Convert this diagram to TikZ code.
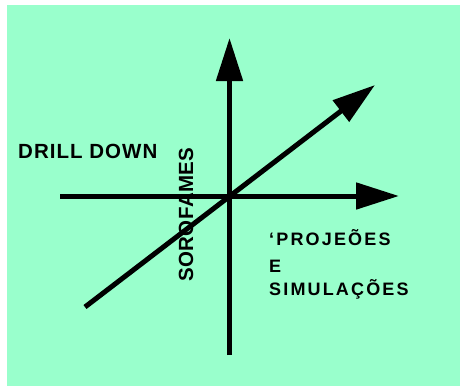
\documentclass[tikz,border=0pt]{standalone}
\usepackage{fontspec}
\setmainfont{Liberation Sans}
\newfontfamily\lblfont[LetterSpace=12]{Liberation Sans}
\newfontfamily\bigfont[LetterSpace=5]{Liberation Sans}
\newfontfamily\rotfont[LetterSpace=2]{Liberation Sans}
\usetikzlibrary{arrows.meta}
\definecolor{bggreen}{RGB}{153,255,204}
\tikzset{
  axis/.style={line width=5pt, -{Triangle[length=43pt,width=26pt]}},
  lbl/.style={inner sep=0pt, anchor=base west, font=\lblfont\bfseries\fontsize{18}{20}\selectfont},
  biglbl/.style={inner sep=0pt, anchor=base west, font=\bigfont\bfseries\fontsize{20.5}{22}\selectfont},
  rotlbl/.style={inner sep=0pt, anchor=base west, rotate=90, font=\rotfont\bfseries\fontsize{20.5}{22}\selectfont}
}
\begin{document}
\begin{tikzpicture}[x=1pt,y=-1pt]
\useasboundingbox (0,0) rectangle (460,386);
\fill[bggreen] (7,5) rectangle (460,386);
% coordinates
\coordinate (O) at (229.5,196);
\coordinate (vtop) at (229.5,38);
\coordinate (vbot) at (229.5,355);
\coordinate (hleft) at (60,196);
\coordinate (hright) at (399,196);
\coordinate (dlow) at (85,307);
\coordinate (dhigh) at (375,85);
% axes
\draw[axis] (vbot) -- (vtop);
\draw[axis] (hleft) -- (hright);
\draw[axis] (dlow) -- (dhigh);
% labels
\node[biglbl] (drill) at (18,158) {DRILL DOWN};
\node[rotlbl] (soro) at (193,282) {SOROFAMES};
\node[lbl] (proj) at (269,245) {‘PROJEÕES};
\node[lbl] (e) at (269,272) {E};
\node[lbl] (simu) at (269,295) {SIMULAÇÕES};
\end{tikzpicture}
\end{document}
